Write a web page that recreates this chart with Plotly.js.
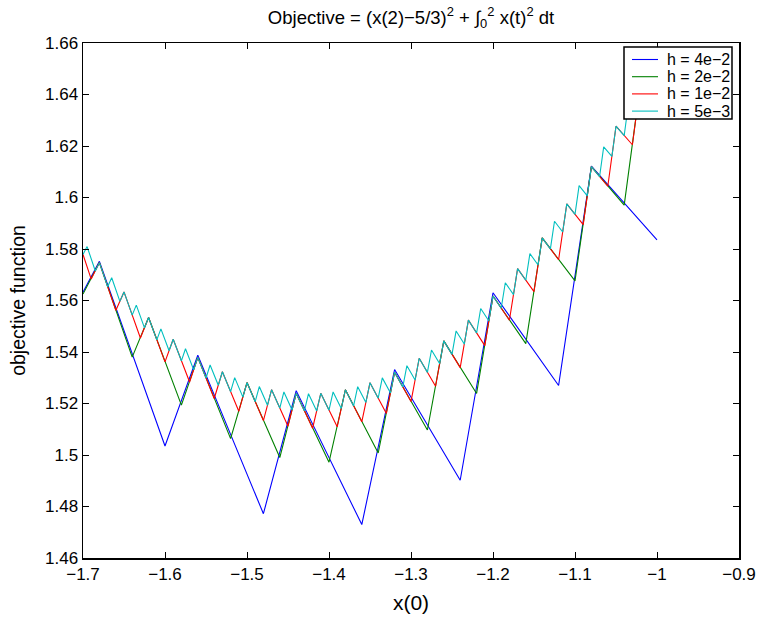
<!DOCTYPE html>
<html>
<head>
<meta charset="utf-8">
<script src="https://cdn.plot.ly/plotly-3.0.1.min.js"></script>
<style>html,body{margin:0;padding:0;background:#fff;}#chart{width:759px;height:626px;}</style>
</head>
<body>
<div id="chart"></div>
<script>
// h = 4e-2
const blueX = [-1.70, -1.68, -1.60, -1.56, -1.48, -1.44, -1.36, -1.32, -1.24, -1.20, -1.12, -1.08, -1.00];
const blueY = [1.5632, 1.5752, 1.5035, 1.5388, 1.4772, 1.5250, 1.4730, 1.5332, 1.4902, 1.5630, 1.5270, 1.6122, 1.5835];

// h = 2e-2
const greenX = [-1.70, -1.68, -1.64, -1.62, -1.58, -1.56, -1.52, -1.50, -1.46, -1.44, -1.40, -1.38, -1.34,
  -1.32, -1.28, -1.26, -1.22, -1.20, -1.16, -1.14, -1.10, -1.08, -1.04, -1.02, -1.00];
const greenY = [1.56248, 1.57471, 1.53802, 1.55341, 1.51935, 1.53791, 1.50637, 1.52813, 1.49902, 1.52397,
  1.49719, 1.52534, 1.50078, 1.53215, 1.50971, 1.54431, 1.52390, 1.56173, 1.54324, 1.58432, 1.56765,
  1.61198, 1.59703, 1.64463, 1.63783];

// h = 1e-2
const redX = [-1.70, -1.69, -1.68, -1.66, -1.65, -1.63, -1.62, -1.60, -1.59, -1.57, -1.56, -1.54, -1.53,
  -1.51, -1.50, -1.48, -1.47, -1.45, -1.44, -1.42, -1.41, -1.39, -1.38, -1.36, -1.35, -1.33, -1.32, -1.30,
  -1.29, -1.27, -1.26, -1.24, -1.23, -1.21, -1.20, -1.18, -1.17, -1.15, -1.14, -1.12, -1.11, -1.09, -1.08,
  -1.06, -1.05, -1.03, -1.02, -1.00];
const redY = [1.57788, 1.56831, 1.57471, 1.55614, 1.56333, 1.54543, 1.55341, 1.53616, 1.54494, 1.52834,
  1.53791, 1.52193, 1.53232, 1.51696, 1.52813, 1.51338, 1.52536, 1.51120, 1.52397, 1.51039, 1.52397,
  1.51095, 1.52534, 1.51288, 1.52807, 1.51615, 1.53215, 1.52076, 1.53757, 1.52670, 1.54431, 1.53394,
  1.55237, 1.54249, 1.56173, 1.55233, 1.57238, 1.56344, 1.58432, 1.57584, 1.59752, 1.58948, 1.61198,
  1.60437, 1.62769, 1.62049, 1.64463, 1.63783];

// h = 5e-3
const cyanX = [-1.700, -1.695, -1.685, -1.680, -1.670, -1.665, -1.655, -1.650, -1.640, -1.635, -1.625,
  -1.620, -1.610, -1.605, -1.595, -1.590, -1.580, -1.575, -1.565, -1.560, -1.550, -1.545, -1.535, -1.530,
  -1.520, -1.515, -1.505, -1.500, -1.490, -1.485, -1.475, -1.470, -1.460, -1.455, -1.445, -1.440, -1.430,
  -1.425, -1.415, -1.410, -1.400, -1.395, -1.385, -1.380, -1.370, -1.365, -1.355, -1.350, -1.340, -1.335,
  -1.325, -1.320, -1.310, -1.305, -1.295, -1.290, -1.280, -1.275, -1.265, -1.260, -1.250, -1.245, -1.235,
  -1.230, -1.220, -1.215, -1.205, -1.200, -1.190, -1.185, -1.175, -1.170, -1.160, -1.155, -1.145, -1.140,
  -1.130, -1.125, -1.115, -1.110, -1.100, -1.095, -1.085, -1.080, -1.070, -1.065, -1.055, -1.050, -1.040,
  -1.035, -1.025, -1.020, -1.010, -1.005, -1.000];
const cyanY = [1.57788, 1.58095, 1.57144, 1.57471, 1.56537, 1.56883, 1.55966, 1.56333, 1.55432, 1.55819,
  1.54935, 1.55341, 1.54473, 1.54899, 1.54047, 1.54494, 1.53658, 1.54125, 1.53305, 1.53791, 1.52987,
  1.53494, 1.52706, 1.53232, 1.52459, 1.53005, 1.52247, 1.52813, 1.52070, 1.52657, 1.51929, 1.52536,
  1.51823, 1.52449, 1.51751, 1.52397, 1.51713, 1.52380, 1.51710, 1.52397, 1.51742, 1.52449, 1.51808,
  1.52534, 1.51906, 1.52654, 1.52040, 1.52807, 1.52207, 1.52995, 1.52408, 1.53215, 1.52641, 1.53470,
  1.52909, 1.53757, 1.53209, 1.54078, 1.53543, 1.54431, 1.53908, 1.54818, 1.54308, 1.55237, 1.54739,
  1.55689, 1.55203, 1.56173, 1.55699, 1.56690, 1.56228, 1.57238, 1.56787, 1.57819, 1.57380, 1.58432,
  1.58004, 1.59076, 1.58659, 1.59752, 1.59346, 1.60459, 1.60064, 1.61198, 1.60814, 1.61968, 1.61594,
  1.62769, 1.62406, 1.63600, 1.63247, 1.64463, 1.64120, 1.65356, 1.65189];

const seriesNames = ['h = 4e\u22122', 'h = 2e\u22122', 'h = 1e\u22122', 'h = 5e\u22123'];
const seriesColors = ['#0000ff', '#008000', '#ff0000', '#00bfbf'];

const xTickVals = [-1.7, -1.6, -1.5, -1.4, -1.3, -1.2, -1.1, -1.0, -0.9];
const xTickText = ['\u22121.7', '\u22121.6', '\u22121.5', '\u22121.4', '\u22121.3', '\u22121.2', '\u22121.1', '\u22121', '\u22120.9'];
const yTickVals = [1.46, 1.48, 1.50, 1.52, 1.54, 1.56, 1.58, 1.60, 1.62, 1.64, 1.66];
const yTickText = ['1.46', '1.48', '1.5', '1.52', '1.54', '1.56', '1.58', '1.6', '1.62', '1.64', '1.66'];

const xs = [blueX, greenX, redX, cyanX];
const ys = [blueY, greenY, redY, cyanY];
const traces = xs.map((x, i) => ({
  x: x, y: ys[i], type: 'scatter', mode: 'lines', name: seriesNames[i],
  line: {color: seriesColors[i], width: 1.1}, showlegend: false
}));

// page geometry (pixels)
const W = 759, H = 626, M = {l: 83, r: 20, t: 43, b: 68};
const PW = W - M.l - M.r, PH = H - M.t - M.b;
const px2x = p => (p - M.l) / PW;
const py2y = p => 1 - (p - M.t) / PH;

const FONT = 'Liberation Sans, Arial, Helvetica, sans-serif';

// legend box drawn in paper space
const LEG = {left: 624, right: 732, top: 47, bottom: 119, lineX0: 632, lineX1: 658, textX: 665, row0: 59.5, rowGap: 17.2};
const shapes = [{
  type: 'rect', xref: 'paper', yref: 'paper', layer: 'above',
  x0: px2x(LEG.left), x1: px2x(LEG.right), y0: py2y(LEG.bottom), y1: py2y(LEG.top),
  fillcolor: '#fff', line: {color: '#000', width: 1.5}
}];
const annotations = [];
seriesNames.forEach((nm, i) => {
  const yy = py2y(LEG.row0 + i * LEG.rowGap);
  shapes.push({
    type: 'line', xref: 'paper', yref: 'paper', layer: 'above',
    x0: px2x(LEG.lineX0), x1: px2x(LEG.lineX1), y0: yy, y1: yy,
    line: {color: seriesColors[i], width: 1.1}
  });
  annotations.push({
    xref: 'paper', yref: 'paper', x: px2x(LEG.textX), y: yy, xanchor: 'left', yanchor: 'middle',
    text: nm, showarrow: false, font: {family: FONT, size: 16, color: '#000'}
  });
});

const axisCommon = {
  showline: true, linecolor: '#000', linewidth: 1.5, mirror: 'ticks',
  ticks: 'inside', ticklen: 6, tickwidth: 1, tickcolor: '#000',
  showgrid: false, zeroline: false,
  tickfont: {family: FONT, size: 17, color: '#000'}
};

const layout = {
  width: W, height: H,
  margin: M,
  paper_bgcolor: '#fff', plot_bgcolor: '#fff',
  font: {family: FONT, color: '#000'},
  title: {
    text: 'Objective = (x(2)\u22125/3)<sup>2</sup> + \u222B<sub>0</sub><sup>2</sup> x(t)<sup>2</sup> dt',
    font: {family: FONT, size: 18.5, color: '#000'},
    x: 0.5, xref: 'paper', xanchor: 'center', y: 0.972, yref: 'container', yanchor: 'middle'
  },
  xaxis: Object.assign({}, axisCommon, {
    range: [-1.7, -0.9], tickvals: xTickVals, ticktext: xTickText,
    title: {text: 'x(0)', font: {family: FONT, size: 21, color: '#000'}, standoff: 12}
  }),
  yaxis: Object.assign({}, axisCommon, {
    range: [1.46, 1.66], tickvals: yTickVals, ticktext: yTickText,
    title: {text: 'objective function', font: {family: FONT, size: 19.5, color: '#000'}, standoff: 14}
  }),
  showlegend: false,
  shapes: shapes,
  annotations: annotations
};

Plotly.newPlot('chart', traces, layout, {staticPlot: true, displayModeBar: false});
</script>
</body>
</html>
